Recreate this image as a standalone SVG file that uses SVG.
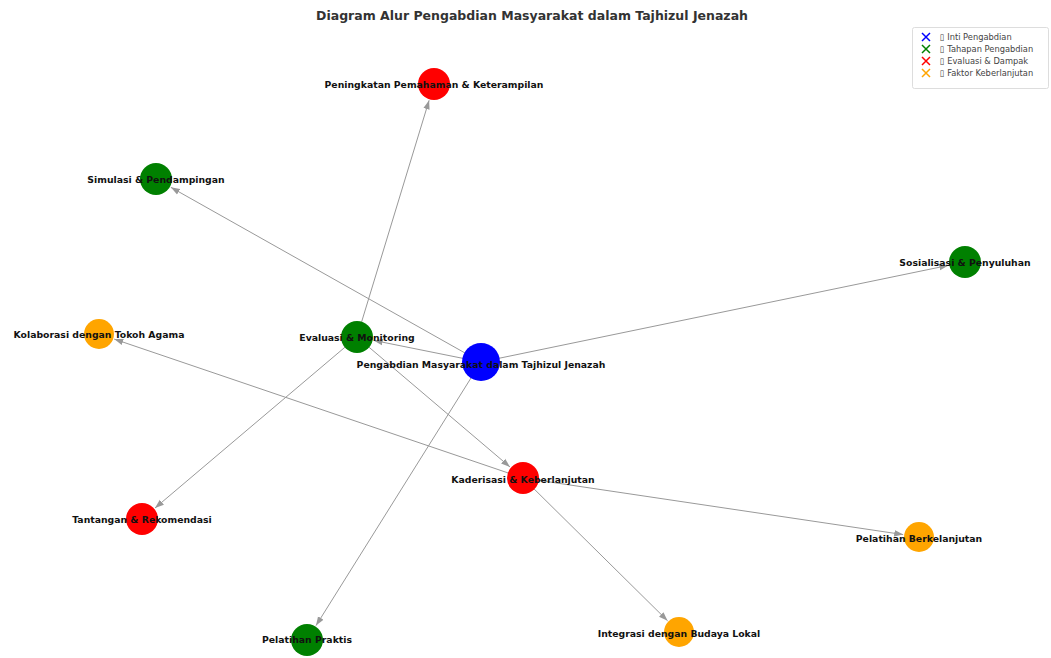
<svg xmlns="http://www.w3.org/2000/svg" width="1051" height="658" viewBox="0 0 1051 658">
<style>
.edge{stroke:#999;stroke-width:1;fill:none;marker-end:url(#ah)}
.lbl{font-family:"DejaVu Sans",sans-serif;font-weight:bold;font-size:9.3px;fill:#111;text-anchor:middle;dominant-baseline:central}
.title{font-family:"DejaVu Sans",sans-serif;font-weight:bold;font-size:12.5px;fill:#333;text-anchor:middle}
.leg{font-family:"DejaVu Sans",sans-serif;font-size:8.3px;fill:#444}
.blue{fill:#0000ff}.green{fill:#008000}.red{fill:#ff0000}.orange{fill:#ffa500}
</style>
<defs>
<marker id="ah" markerUnits="userSpaceOnUse" markerWidth="10" markerHeight="8" viewBox="0 0 10 8" refX="9" refY="4" orient="auto">
<path d="M0,0.8 L9,4 L0,7.2 Z" fill="#999"/>
</marker>
</defs>
<rect width="1051" height="658" fill="#fff"/>
<text class="title" x="532" y="20">Diagram Alur Pengabdian Masyarakat dalam Tajhizul Jenazah</text>
<g id="connectors">
<line class="edge" x1="481" y1="362" x2="170.8" y2="187.3"/>
<line class="edge" x1="481" y1="362" x2="948.3" y2="265.4"/>
<line class="edge" x1="481" y1="362" x2="373.7" y2="340.4"/>
<line class="edge" x1="481" y1="362" x2="316" y2="625.6"/>
<line class="edge" x1="357" y1="337" x2="429.1" y2="100.3"/>
<line class="edge" x1="357" y1="337" x2="155" y2="508"/>
<line class="edge" x1="357" y1="337" x2="510" y2="467"/>
<line class="edge" x1="523" y1="478" x2="114.2" y2="339.1"/>
<line class="edge" x1="523" y1="478" x2="667.6" y2="620.8"/>
<line class="edge" x1="523" y1="478" x2="903.2" y2="534.6"/>
</g>
<g id="n-peningkatan"><circle class="red" cx="434" cy="84" r="16"/><text class="lbl" x="434" y="84">Peningkatan Pemahaman &amp; Keterampilan</text></g>
<g id="n-simulasi"><circle class="green" cx="156" cy="179" r="16"/><text class="lbl" x="156" y="179">Simulasi &amp; Pendampingan</text></g>
<g id="n-sosialisasi"><circle class="green" cx="965" cy="262" r="16"/><text class="lbl" x="965" y="262">Sosialisasi &amp; Penyuluhan</text></g>
<g id="n-kolaborasi"><circle class="orange" cx="99" cy="334" r="15"/><text class="lbl" x="99" y="334">Kolaborasi dengan Tokoh Agama</text></g>
<g id="n-evaluasi"><circle class="green" cx="357" cy="337" r="16"/><text class="lbl" x="357" y="337">Evaluasi &amp; Monitoring</text></g>
<g id="n-inti"><circle class="blue" cx="481" cy="362" r="19"/><text class="lbl" x="481" y="364">Pengabdian Masyarakat dalam Tajhizul Jenazah</text></g>
<g id="n-kaderisasi"><circle class="red" cx="523" cy="478" r="16"/><text class="lbl" x="523" y="479">Kaderisasi &amp; Keberlanjutan</text></g>
<g id="n-tantangan"><circle class="red" cx="142" cy="519" r="16"/><text class="lbl" x="142" y="519">Tantangan &amp; Rekomendasi</text></g>
<g id="n-pelatihanb"><circle class="orange" cx="919" cy="537" r="15"/><text class="lbl" x="919" y="538">Pelatihan Berkelanjutan</text></g>
<g id="n-praktis"><circle class="green" cx="307" cy="640" r="16"/><text class="lbl" x="307" y="639">Pelatihan Praktis</text></g>
<g id="n-integrasi"><circle class="orange" cx="679" cy="632" r="15"/><text class="lbl" x="679" y="633">Integrasi dengan Budaya Lokal</text></g>
<g id="legend">
<rect x="912.5" y="27.5" width="136" height="61" rx="2" fill="#fff" stroke="#ddd"/>
<g stroke-width="1.5">
<path d="M922,33 L930,41 M930,33 L922,41" stroke="#0000ff"/>
<path d="M922,45 L930,53 M930,45 L922,53" stroke="#008000"/>
<path d="M922,57 L930,65 M930,57 L922,65" stroke="#ff0000"/>
<path d="M922,69 L930,77 M930,69 L922,77" stroke="#ffa500"/>
</g>
<text class="leg" x="940" y="40">▯ Inti Pengabdian</text>
<text class="leg" x="940" y="52">▯ Tahapan Pengabdian</text>
<text class="leg" x="940" y="64">▯ Evaluasi &amp; Dampak</text>
<text class="leg" x="940" y="76">▯ Faktor Keberlanjutan</text>
</g>
</svg>
